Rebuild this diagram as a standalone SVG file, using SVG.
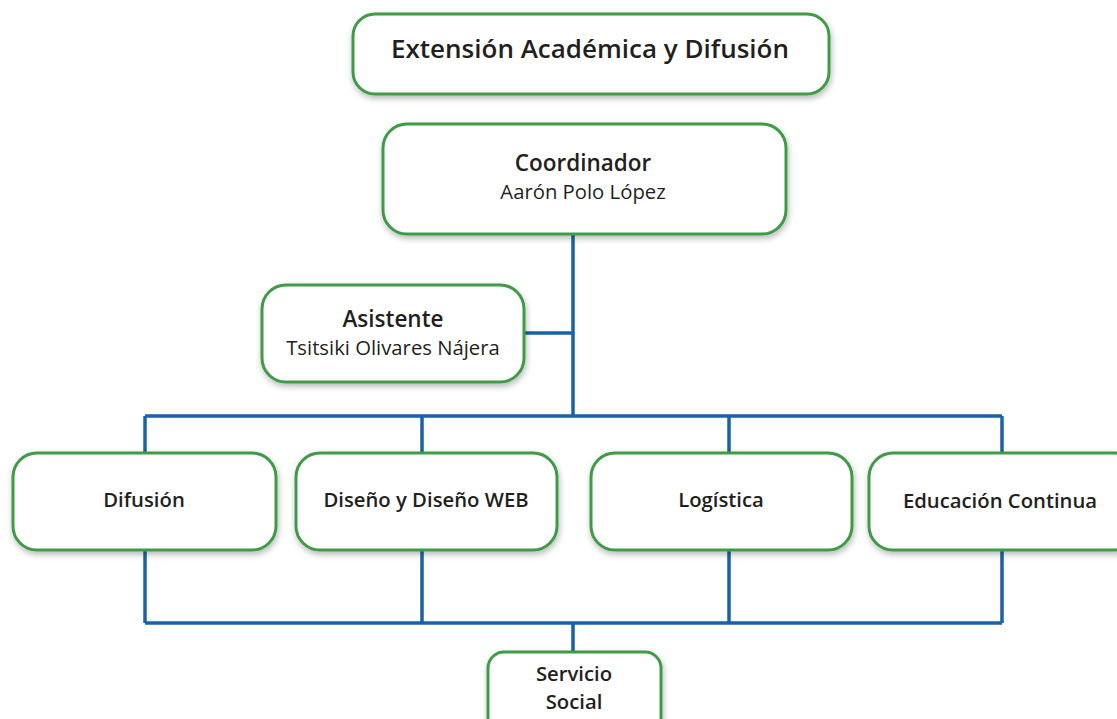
<svg xmlns="http://www.w3.org/2000/svg" width="1117" height="719" viewBox="0 0 1117 719">
<defs>
<filter id="sh" x="-10%" y="-20%" width="120%" height="150%">
<feDropShadow dx="1" dy="3" stdDeviation="3" flood-color="#000" flood-opacity="0.28"/>
</filter>
<style>
.box{fill:#fff;stroke:#3f9b46;stroke-width:3;filter:url(#sh)}
.ln{fill:none;stroke:#1a62a8;stroke-width:3.5}
text{font-family:"Open Sans",Lato,"Liberation Sans",sans-serif;fill:#231f20;text-anchor:middle}
.b{font-weight:600}
.t{font-size:26px}
.h{font-size:22.5px}
.r{font-size:20.3px;font-weight:normal}
.m{font-size:20.3px}
</style>
</defs>
<rect width="1117" height="719" fill="#fff"/>
<g id="connectors">
<path class="ln" d="M573 234V416M524 333H573M145 416H1002M145 416V453M422 416V453M729 416V453M1002 416V453M145 550V623M422 550V623M729 550V623M1002 550V623M145 623H1002M573 623V652"/>
</g>
<g id="n-extension">
<rect class="box" x="353" y="14" width="476" height="80" rx="22"/>
<text class="b t" x="590" y="58">Extensión Académica y Difusión</text>
</g>
<g id="n-coordinador">
<rect class="box" x="383" y="124" width="403" height="110" rx="24"/>
<text class="b h" x="583" y="170.5">Coordinador</text>
<text class="r" x="583" y="199">Aarón Polo López</text>
</g>
<g id="n-asistente">
<rect class="box" x="262" y="285" width="262" height="97" rx="24"/>
<text class="b h" x="393" y="326.5">Asistente</text>
<text class="r" x="393" y="355">Tsitsiki Olivares Nájera</text>
</g>
<g id="n-difusion">
<rect class="box" x="13" y="453" width="263" height="97" rx="24"/>
<text class="b m" x="144" y="507">Difusión</text>
</g>
<g id="n-diseno">
<rect class="box" x="296" y="453" width="261" height="97" rx="24"/>
<text class="b m" x="426" y="507">Diseño y Diseño WEB</text>
</g>
<g id="n-logistica">
<rect class="box" x="591" y="453" width="261" height="97" rx="24"/>
<text class="b m" x="721" y="507">Logística</text>
</g>
<g id="n-educacion">
<rect class="box" x="869" y="453" width="270" height="97" rx="24"/>
<text class="b m" x="1000" y="508">Educación Continua</text>
</g>
<g id="n-servicio">
<rect class="box" x="488" y="652" width="173" height="90" rx="16"/>
<text class="b m" x="574" y="680.5">Servicio</text>
<text class="b m" x="574" y="708.5">Social</text>
</g>
</svg>
